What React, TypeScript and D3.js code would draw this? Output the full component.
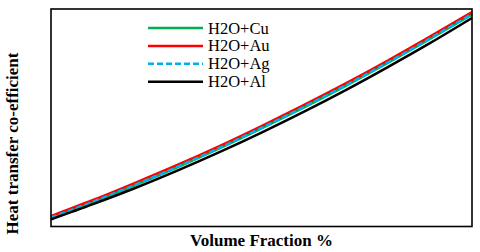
import { useEffect, useRef } from "react";
import * as d3 from "d3";

// volume fraction (%) along x, heat transfer coefficient (arbitrary units) along y
const volumeFraction = [0, 0.5, 1, 1.5, 2, 2.5, 3, 3.5, 4, 4.5, 5];
const seriesNames = ["H2O+Cu", "H2O+Au", "H2O+Ag", "H2O+Al"];
const cuValues = [1037, 1111, 1190, 1272, 1359, 1451, 1547, 1647, 1752, 1862, 1975];
const auValues = [1048, 1122, 1201, 1283, 1370, 1462, 1558, 1658, 1763, 1873, 1986];
const agValues = [1041, 1114, 1192, 1274, 1361, 1453, 1549, 1649, 1754, 1864, 1977];
const alValues = [1033, 1103, 1177, 1257, 1342, 1432, 1527, 1627, 1733, 1843, 1959];
const yDomain = [1000, 2000];

const seriesStyle = [
  { color: "#00b050", dash: null },
  { color: "#ff0000", dash: null },
  { color: "#00b0f0", dash: "6,3" },
  { color: "#000000", dash: null },
];

export default function App() {
  const svgRef = useRef<SVGSVGElement | null>(null);
  const width = 480;
  const height = 252;
  const margin = { top: 9, right: 8, bottom: 25.5, left: 51 };

  useEffect(() => {
    document.body.style.margin = "0";
    if (!svgRef.current) return;

    const svg = d3.select(svgRef.current);
    svg.selectAll("*").remove();

    const plotW = width - margin.left - margin.right;
    const plotH = height - margin.top - margin.bottom;

    const x = d3.scaleLinear()
      .domain(d3.extent(volumeFraction) as [number, number])
      .range([margin.left, margin.left + plotW]);

    const y = d3.scaleLinear()
      .domain(yDomain)
      .range([margin.top + plotH, margin.top]);

    const allValues = [cuValues, auValues, agValues, alValues];

    const line = d3.line<number>()
      .x((_, i) => x(volumeFraction[i]))
      .y(d => y(d))
      .curve(d3.curveMonotoneX);

    // curves
    svg.append("g")
      .selectAll("path")
      .data(allValues)
      .enter()
      .append("path")
      .attr("d", d => line(d))
      .attr("fill", "none")
      .attr("stroke", (_, i) => seriesStyle[i].color)
      .attr("stroke-width", 2.5)
      .attr("stroke-dasharray", (_, i) => seriesStyle[i].dash);

    // frame
    svg.append("rect")
      .attr("x", margin.left)
      .attr("y", margin.top)
      .attr("width", plotW)
      .attr("height", plotH)
      .attr("fill", "none")
      .attr("stroke", "#000")
      .attr("stroke-width", 1.6);

    // legend
    const legend = svg.append("g").attr("transform", "translate(148,28)");
    seriesNames.forEach((name, i) => {
      const row = legend.append("g").attr("transform", `translate(0,${i * 17.9})`);
      row.append("line")
        .attr("x1", 0)
        .attr("x2", 55)
        .attr("y1", 0)
        .attr("y2", 0)
        .attr("stroke", seriesStyle[i].color)
        .attr("stroke-width", 2.5)
        .attr("stroke-dasharray", seriesStyle[i].dash);
      row.append("text")
        .attr("x", 60)
        .attr("y", 5.5)
        .style("font-family", "'Liberation Serif', 'Times New Roman', serif")
        .style("font-size", "16.5px")
        .style("fill", "#000")
        .text(name);
    });

    // axis titles
    svg.append("text")
      .attr("x", margin.left + plotW / 2)
      .attr("y", 246)
      .attr("text-anchor", "middle")
      .style("font-family", "'Liberation Serif', 'Times New Roman', serif")
      .style("font-size", "17px")
      .style("font-weight", "bold")
      .text("Volume Fraction %");

    svg.append("text")
      .attr("transform", "translate(18,143.5) rotate(-90)")
      .attr("text-anchor", "middle")
      .style("font-family", "'Liberation Serif', 'Times New Roman', serif")
      .style("font-size", "17px")
      .style("font-weight", "bold")
      .text("Heat transfer co-efficient");
  }, []);

  return (
    <svg
      ref={svgRef}
      width={width}
      height={height}
      style={{ display: "block", background: "#fff" }}
    />
  );
}
